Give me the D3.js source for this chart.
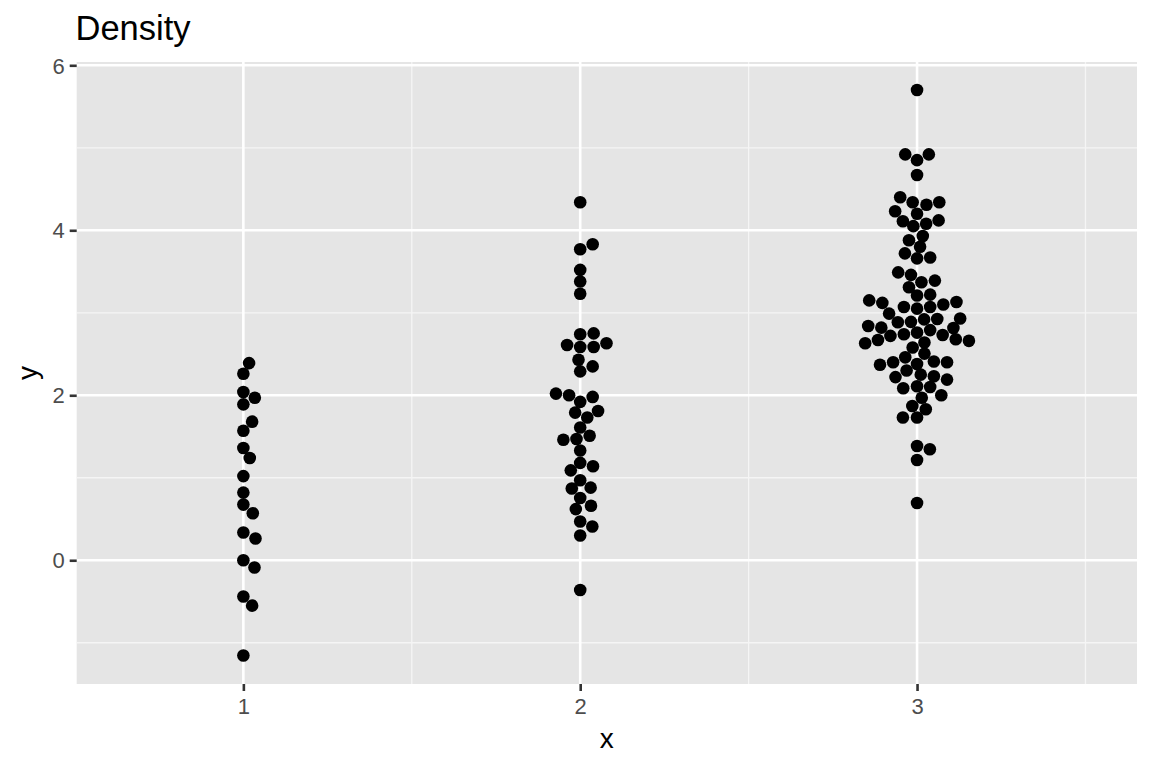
<!DOCTYPE html>
<html>
<head>
<meta charset="utf-8">
<script src="https://cdn.jsdelivr.net/npm/d3@7"></script>
<style>
html,body{margin:0;padding:0;background:#fff;}
svg{display:block;font-family:"Liberation Sans",Arial,Helvetica,sans-serif;}
</style>
</head>
<body>
<svg id="chart" width="1152" height="768"></svg>
<script>
// ---- data ----
const chartTitle = "Density";
const xTickLabels = ["1", "2", "3"];
const yTickValues = [0, 2, 4, 6];
const yMinorValues = [-1, 1, 3, 5];
const xMinorValues = [1.5, 2.5, 3.5];

const group1X = [1.017,1,1,1.034,1,1.026,1,1,1.019,1,1,1,1.028,1,1.036,1,1.033,1,1.026,1];
const group1Y = [2.39,2.26,2.04,1.97,1.89,1.68,1.57,1.36,1.24,1.02,0.82,0.675,0.57,0.336,0.263,0,-0.088,-0.44,-0.55,-1.155];

const group2X = [2,2.037,2,2,2,2,2.040,2,1.961,2,2.040,2.078,1.995,2.037,2,1.928,1.967,2.037,2,1.985,2.053,2.021,2,1.950,1.989,2.028,2,2,1.972,2.038,2,1.975,2.031,2,1.987,2.032,2,2.036,2,2];
const group2Y = [4.34,3.83,3.77,3.52,3.38,3.23,2.75,2.74,2.61,2.585,2.585,2.63,2.43,2.35,2.29,2.02,2.0,1.98,1.92,1.79,1.81,1.73,1.61,1.46,1.47,1.51,1.33,1.18,1.09,1.14,0.97,0.87,0.88,0.755,0.62,0.66,0.47,0.41,0.30,-0.36];

const group3X = [3,2.965,3.035,3,3,2.950,2.987,3.028,3.066,2.935,3,2.958,3.064,2.989,3.027,
  3.017,2.976,3.009,2.964,3,3.039,2.944,2.982,3.013,3.053,2.976,3,3.039,2.858,2.897,2.961,3,3.039,3.078,3.117,
  2.917,2.943,2.982,3.021,3.060,3.128,2.855,2.894,3,3.039,3.108,2.921,2.961,3.076,3.115,2.846,2.884,3.154,3.022,
  2.987,3.022,2.965,2.929,2.890,3,3.050,3.089,2.969,3.011,3.050,2.936,3.089,2.959,3,3.039,
  3.072,3.014,2.986,3.026,2.958,3,3,3.038,3,3];
const group3Y = [5.70,4.92,4.92,4.85,4.67,4.40,4.34,4.31,4.34,4.23,4.20,4.11,4.12,4.05,4.08,
  3.93,3.88,3.80,3.72,3.66,3.67,3.49,3.46,3.37,3.39,3.31,3.21,3.22,3.15,3.12,3.07,3.05,3.07,3.10,3.13,
  2.99,2.885,2.89,2.92,2.925,2.93,2.84,2.82,2.76,2.79,2.815,2.72,2.74,2.73,2.68,2.63,2.67,2.66,2.64,
  2.58,2.505,2.46,2.40,2.37,2.38,2.41,2.40,2.30,2.25,2.23,2.22,2.19,2.085,2.11,2.10,
  2.00,1.97,1.87,1.83,1.73,1.73,1.385,1.345,1.215,0.695];

// ---- layout ----
const panel = {left: 76.7, right: 1137, top: 62, bottom: 684};
const svg = d3.select("#chart");

const x = d3.scaleLinear().domain([0.5052, 3.653]).range([panel.left, panel.right]);
const y = d3.scaleLinear().domain([-1.5, 6.04]).range([panel.bottom, panel.top]);

const points = [];
group1X.forEach((v, i) => points.push({x: v, y: group1Y[i]}));
group2X.forEach((v, i) => points.push({x: v, y: group2Y[i]}));
group3X.forEach((v, i) => points.push({x: v, y: group3Y[i]}));

// panel background
svg.append("rect")
  .attr("x", panel.left).attr("y", panel.top)
  .attr("width", panel.right - panel.left).attr("height", panel.bottom - panel.top)
  .attr("fill", "#E5E5E5");

const grid = svg.append("g");
// minor gridlines
grid.selectAll("line.ymin").data(yMinorValues).enter().append("line")
  .attr("x1", panel.left).attr("x2", panel.right)
  .attr("y1", d => y(d)).attr("y2", d => y(d))
  .attr("stroke", "#F5F5F5").attr("stroke-width", 1.3);
grid.selectAll("line.xmin").data(xMinorValues).enter().append("line")
  .attr("y1", panel.top).attr("y2", panel.bottom)
  .attr("x1", d => x(d)).attr("x2", d => x(d))
  .attr("stroke", "#F5F5F5").attr("stroke-width", 1.3);
// major gridlines
grid.selectAll("line.ymaj").data(yTickValues).enter().append("line")
  .attr("x1", panel.left).attr("x2", panel.right)
  .attr("y1", d => y(d)).attr("y2", d => y(d))
  .attr("stroke", "#fff").attr("stroke-width", 2.6);
grid.selectAll("line.xmaj").data([1, 2, 3]).enter().append("line")
  .attr("y1", panel.top).attr("y2", panel.bottom)
  .attr("x1", d => x(d)).attr("x2", d => x(d))
  .attr("stroke", "#fff").attr("stroke-width", 2.6);

// points
svg.append("g").selectAll("circle").data(points).enter().append("circle")
  .attr("cx", d => x(d.x)).attr("cy", d => y(d.y))
  .attr("r", 6.3).attr("fill", "#000");

// axes
const yAxis = d3.axisLeft(y).tickValues(yTickValues).tickSize(7).tickPadding(5).tickFormat(d3.format("d"));
const gy = svg.append("g").attr("transform", `translate(${panel.left},0)`).call(yAxis);
gy.select(".domain").remove();
gy.selectAll(".tick line").attr("stroke", "#333333").attr("stroke-width", 2.6);
gy.selectAll(".tick text").attr("fill", "#4D4D4D").style("font-size", "22px")
  .attr("dy", "0.35em");

const xAxis = d3.axisBottom(x).tickValues([1, 2, 3]).tickSize(7).tickPadding(5)
  .tickFormat((d, i) => xTickLabels[i]);
const gx = svg.append("g").attr("transform", `translate(0,${panel.bottom})`).call(xAxis);
gx.select(".domain").remove();
gx.selectAll(".tick line").attr("stroke", "#333333").attr("stroke-width", 2.6);
gx.selectAll(".tick text").attr("fill", "#4D4D4D").style("font-size", "22px")
  .attr("dy", null).attr("y", 30);

// titles
svg.append("text").attr("x", 75.5).attr("y", 39.5)
  .style("font-size", "34.5px").attr("fill", "#000").text(chartTitle);
svg.append("text").attr("x", (panel.left + panel.right) / 2).attr("y", 748)
  .attr("text-anchor", "middle").style("font-size", "28px").attr("fill", "#000").text("x");
svg.append("text")
  .attr("transform", `translate(37,${(panel.top + panel.bottom) / 2}) rotate(-90)`)
  .attr("text-anchor", "middle").style("font-size", "28px").attr("fill", "#000").text("y");
</script>
</body>
</html>
